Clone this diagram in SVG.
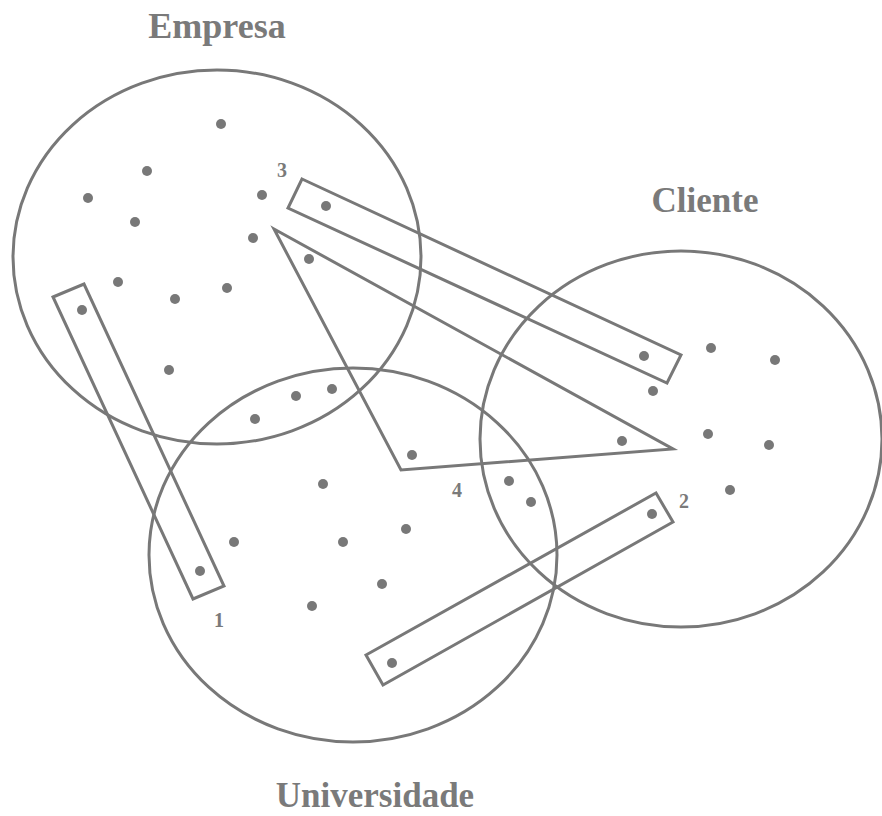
<svg xmlns="http://www.w3.org/2000/svg" width="882" height="816" viewBox="0 0 882 816">
<style>
.set{fill:none;stroke:#787878;stroke-width:3}
.grp{fill:none;stroke:#787878;stroke-width:3;stroke-linejoin:miter}
.dot{fill:#787878}
.title{font-family:"Liberation Serif","Times New Roman",serif;font-weight:bold;fill:#7a7a7a;text-anchor:middle}
.num{font-family:"Liberation Serif","Times New Roman",serif;font-weight:bold;font-size:20px;fill:#7a7a7a;text-anchor:middle}
</style>
<rect width="882" height="816" fill="#fff"/>
<g id="empresa">
<ellipse class="set" cx="217" cy="257" rx="204" ry="187"/>
<text class="title" x="217" y="38" font-size="36">Empresa</text>
</g>
<g id="cliente">
<ellipse class="set" cx="681" cy="439" rx="201" ry="188"/>
<text class="title" x="705" y="212" font-size="35">Cliente</text>
</g>
<g id="universidade">
<ellipse class="set" cx="353" cy="555" rx="204" ry="187"/>
<text class="title" x="375" y="807" font-size="35">Universidade</text>
</g>
<g id="dots">
<circle class="dot" cx="221" cy="124" r="5"/>
<circle class="dot" cx="147" cy="171" r="5"/>
<circle class="dot" cx="88" cy="198" r="5"/>
<circle class="dot" cx="135" cy="222" r="5"/>
<circle class="dot" cx="262" cy="195" r="5"/>
<circle class="dot" cx="253" cy="238" r="5"/>
<circle class="dot" cx="326" cy="206" r="5"/>
<circle class="dot" cx="309" cy="259" r="5"/>
<circle class="dot" cx="118" cy="282" r="5"/>
<circle class="dot" cx="175" cy="299" r="5"/>
<circle class="dot" cx="227" cy="288" r="5"/>
<circle class="dot" cx="82" cy="310" r="5"/>
<circle class="dot" cx="169" cy="370" r="5"/>
<circle class="dot" cx="296" cy="396" r="5"/>
<circle class="dot" cx="332" cy="389" r="5"/>
<circle class="dot" cx="255" cy="419" r="5"/>
<circle class="dot" cx="644" cy="356" r="5"/>
<circle class="dot" cx="711" cy="348" r="5"/>
<circle class="dot" cx="775" cy="360" r="5"/>
<circle class="dot" cx="653" cy="391" r="5"/>
<circle class="dot" cx="622" cy="441" r="5"/>
<circle class="dot" cx="708" cy="434" r="5"/>
<circle class="dot" cx="769" cy="445" r="5"/>
<circle class="dot" cx="730" cy="490" r="5"/>
<circle class="dot" cx="509" cy="481" r="5"/>
<circle class="dot" cx="531" cy="502" r="5"/>
<circle class="dot" cx="652" cy="514" r="5"/>
<circle class="dot" cx="412" cy="455" r="5"/>
<circle class="dot" cx="323" cy="484" r="5"/>
<circle class="dot" cx="234" cy="542" r="5"/>
<circle class="dot" cx="343" cy="542" r="5"/>
<circle class="dot" cx="406" cy="529" r="5"/>
<circle class="dot" cx="200" cy="571" r="5"/>
<circle class="dot" cx="382" cy="584" r="5"/>
<circle class="dot" cx="312" cy="606" r="5"/>
<circle class="dot" cx="392" cy="663" r="5"/>
</g>
<g id="group1">
<polygon class="grp" points="53,297 84,284 224,586 193,599"/>
<text class="num" x="219" y="627">1</text>
</g>
<g id="group2">
<polygon class="grp" points="656,493 673,522 383,685 366,655"/>
<text class="num" x="684" y="508">2</text>
</g>
<g id="group3">
<polygon class="grp" points="302,179 681,355 667,383 288,208"/>
<text class="num" x="282" y="177">3</text>
</g>
<g id="group4">
<polygon class="grp" points="274,229 673,449 401,470"/>
<text class="num" x="457" y="497">4</text>
</g>
</svg>
